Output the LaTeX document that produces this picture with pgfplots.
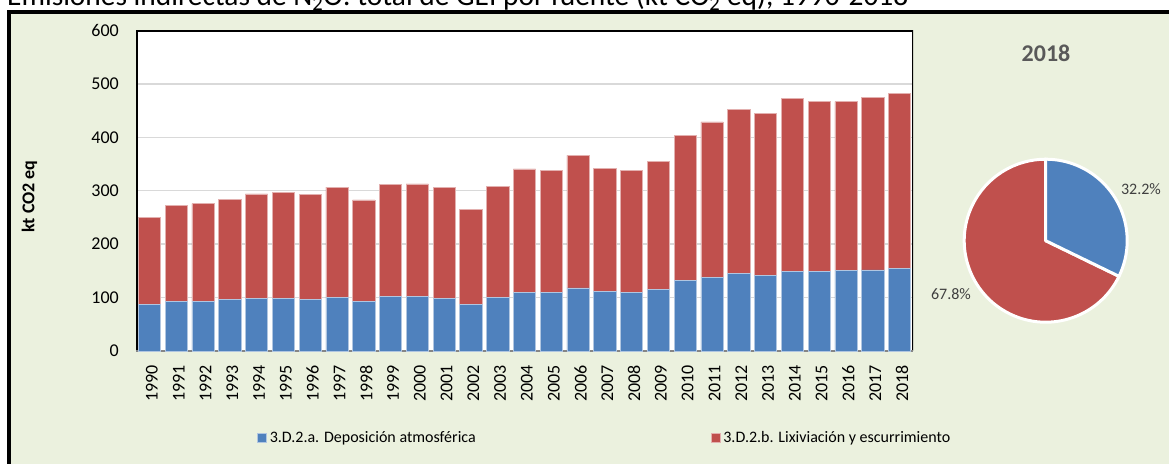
\documentclass[border=0pt]{standalone}
\usepackage{fontspec}
\setmainfont{Carlito}
\usepackage{pgfplots}
\usepackage{pgfplotstable}
\pgfplotsset{compat=1.18}
\definecolor{bgG}{HTML}{EBF1DE}
\definecolor{serA}{HTML}{4F81BD}
\definecolor{serB}{HTML}{C0504D}
\definecolor{gridc}{HTML}{D9D9D9}
\definecolor{axgray}{HTML}{868686}
\definecolor{ttlgray}{HTML}{595959}
\definecolor{lblgray}{HTML}{404040}

\pgfplotstableread{
year dep lix
1990 87 163
1991 93 180
1992 93 183
1993 96 188
1994 98 196
1995 98 199.5
1996 97 196
1997 100.5 206.5
1998 93 190
1999 102.5 209.5
2000 102.5 210.5
2001 99 207
2002 87.5 177.5
2003 100.5 207.5
2004 109 232
2005 110 228
2006 118 248
2007 111 231.5
2008 110 228
2009 115 240
2010 132.5 271.5
2011 137.5 291.5
2012 145 308
2013 141 304
2014 149 323.5
2015 149 318
2016 151 316
2017 152 323
2018 155 327
}\datatable

\def\pieA{32.2}
\def\pieB{67.8}

\begin{document}
\begin{tikzpicture}
\useasboundingbox (0,0) rectangle (1169pt,463pt);
\clip (0,0) rectangle (1169pt,463pt);
% outer frame
\fill[bgG] (9pt,-10pt) rectangle (1190pt,451pt);
\draw[black, line width=4pt] (9pt,-10pt) -- (9pt,451pt) -- (1190pt,451pt);
% cropped title
\node[anchor=base west, inner sep=0pt, font=\fontsize{29.4}{35}\selectfont] at (7pt,457pt)
  {Emisiones indirectas de N\textsubscript{2}O: total de GEI por fuente (kt CO\textsubscript{2} eq), 1990-2018};

\begin{axis}[
  at={(136pt,112pt)}, anchor=south west,
  scale only axis, width=777pt, height=320.5pt,
  ybar stacked, bar width=0.83,
  xmin=1989.5, xmax=2018.5, ymin=0, ymax=600,
  xtick={1990,...,2018}, ytick={0,100,...,600},
  major tick length=0pt,
  ymajorgrids, grid style={gridc, line width=1.5pt},
  axis line style={draw=none},
  axis background/.style={fill=white},
  /pgf/number format/1000 sep={},
  /pgf/number format/assume math mode=true,
  tick label style={font=\fontsize{18}{20}\selectfont, black},
  yticklabel style={anchor=east, inner sep=0pt}, yticklabel shift=17pt,
  xticklabel style={xshift=2.5pt, rotate=90, anchor=east, inner sep=0pt}, xticklabel shift=14pt,
  ylabel={\textbf{kt CO2 eq}},
  ylabel style={at={(axis description cs:-0.137,0.482)}, anchor=center, font=\fontsize{18}{20}\selectfont},
  legend columns=2,
  legend style={draw=none, fill=none, at={(axis description cs:0.1557,-0.2695)}, anchor=west,
    inner sep=0pt, font=\fontsize{16}{18}\selectfont, nodes={inner sep=0pt},
    /tikz/every even column/.append style={column sep=235pt},
    /tikz/every odd column/.append style={column sep=3pt}},
  legend image code/.code={\fill[#1] (0pt,-4.5pt) rectangle (9pt,4.5pt);},
  legend cell align=left,
]
\addplot[fill=serA, draw=white!55!serA, line width=0.6pt] table[x=year,y=dep]{\datatable};
\addplot[fill=serB, draw=white!55!serB, line width=0.6pt] table[x=year,y=lix]{\datatable};
\legend{3.D.2.a. Deposición atmosférica, 3.D.2.b. Lixiviación y escurrimiento}
\draw[axgray, line width=1.5pt] (rel axis cs:0,0) -- (rel axis cs:1,0);
\draw[black, line width=3pt] (rel axis cs:0,0) -- (rel axis cs:0,1) -- (rel axis cs:1,1) -- (rel axis cs:1,0);
\end{axis}

\begin{axis}[
  at={(1045.7pt,222.3pt)}, anchor=center,
  scale only axis, width=166pt, height=166pt,
  xmin=-1, xmax=1, ymin=-1, ymax=1, hide axis, clip=false,
]
\filldraw[fill=serB, draw=white, line width=3pt, line join=round]
  (axis cs:0,0) -- ++({90-3.6*\pieA}:81.5pt) arc[start angle={90-3.6*\pieA}, end angle=-270, radius=81.5pt] -- cycle;
\filldraw[fill=serA, draw=white, line width=3pt, line join=round]
  (axis cs:0,0) -- ++(90:81.5pt) arc[start angle=90, end angle={90-3.6*\pieA}, radius=81.5pt] -- cycle;
\end{axis}

\node[font=\bfseries\fontsize{24}{28}\selectfont, text=ttlgray] at (1046pt,410pt) {2018};
\node[font=\fontsize{16}{18}\selectfont, text=lblgray] at (1141pt,274pt) {32.2\%};
\node[font=\fontsize{16}{18}\selectfont, text=lblgray] at (951pt,169pt) {67.8\%};
\end{tikzpicture}
\end{document}
